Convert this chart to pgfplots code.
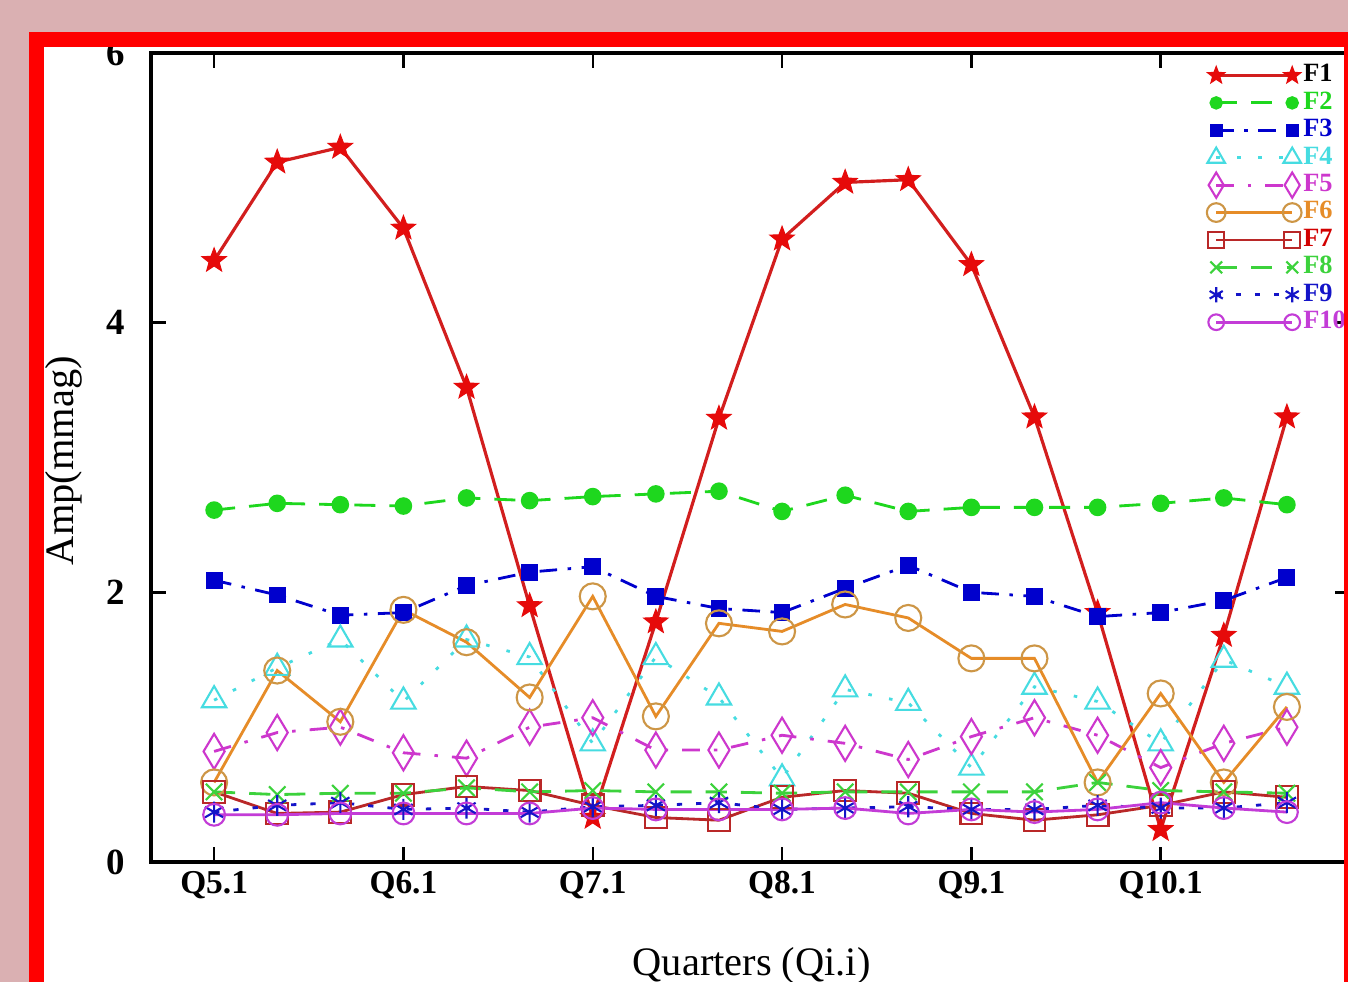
\documentclass[border=0pt]{standalone}
\usepackage{pgfplots}
\pgfplotsset{compat=1.18}
\usepackage{pgfplotstable}
\usepackage{fontspec}
\setmainfont{Liberation Serif}

\definecolor{bgpink}{RGB}{218,176,178}
\definecolor{frame}{RGB}{255,0,0}
\definecolor{c1}{RGB}{230,10,10}
\definecolor{c1l}{RGB}{210,30,30}
\definecolor{c2}{RGB}{30,215,30}
\definecolor{c3}{RGB}{0,0,205}
\definecolor{c4}{RGB}{70,220,225}
\definecolor{c5}{RGB}{205,55,205}
\definecolor{c6}{RGB}{230,140,40}
\definecolor{c6m}{RGB}{205,150,70}
\definecolor{c7}{RGB}{185,40,40}
\definecolor{c7t}{RGB}{210,0,0}
\definecolor{c8}{RGB}{60,210,60}
\definecolor{c9}{RGB}{20,20,200}
\definecolor{c10}{RGB}{195,60,215}

\pgfdeclareplotmark{fstar}{%
  \pgfpathmoveto{\pgfpointpolar{90}{\pgfplotmarksize}}%
  \pgfpathlineto{\pgfpointpolar{126}{0.42\pgfplotmarksize}}%
  \pgfpathlineto{\pgfpointpolar{162}{\pgfplotmarksize}}%
  \pgfpathlineto{\pgfpointpolar{198}{0.42\pgfplotmarksize}}%
  \pgfpathlineto{\pgfpointpolar{234}{\pgfplotmarksize}}%
  \pgfpathlineto{\pgfpointpolar{270}{0.42\pgfplotmarksize}}%
  \pgfpathlineto{\pgfpointpolar{306}{\pgfplotmarksize}}%
  \pgfpathlineto{\pgfpointpolar{342}{0.42\pgfplotmarksize}}%
  \pgfpathlineto{\pgfpointpolar{18}{\pgfplotmarksize}}%
  \pgfpathlineto{\pgfpointpolar{54}{0.42\pgfplotmarksize}}%
  \pgfpathclose
  \pgfusepathqfillstroke}

\pgfplotstableread{
x f1 f2 f3 f4 f5 f6 f7 f8 f9 f10
0 4.46 2.61 2.09 1.20 0.82 0.59 0.52 0.52 0.37 0.35
1 5.19 2.66 1.98 1.44 0.96 1.42 0.36 0.50 0.42 0.35
2 5.30 2.65 1.83 1.65 1.00 1.04 0.37 0.51 0.44 0.36
3 4.70 2.64 1.85 1.19 0.81 1.87 0.50 0.51 0.39 0.36
4 3.52 2.70 2.05 1.65 0.77 1.63 0.56 0.55 0.40 0.36
5 1.90 2.68 2.15 1.52 1.00 1.22 0.53 0.52 0.37 0.36
6 0.33 2.71 2.19 0.88 1.07 1.97 0.42 0.53 0.41 0.40
7 1.78 2.73 1.97 1.52 0.83 1.08 0.33 0.52 0.42 0.39
8 3.29 2.75 1.88 1.22 0.83 1.77 0.31 0.52 0.44 0.39
9 4.62 2.60 1.85 0.62 0.94 1.71 0.48 0.51 0.39 0.39
10 5.04 2.72 2.03 1.28 0.88 1.91 0.53 0.52 0.40 0.40
11 5.06 2.60 2.20 1.18 0.76 1.81 0.51 0.52 0.41 0.36
12 4.43 2.63 2.00 0.70 0.93 1.51 0.36 0.52 0.39 0.39
13 3.30 2.63 1.97 1.30 1.07 1.51 0.31 0.52 0.39 0.37
14 1.85 2.63 1.82 1.19 0.94 0.59 0.35 0.59 0.42 0.39
15 0.24 2.66 1.85 0.88 0.70 1.25 0.42 0.53 0.40 0.44
16 1.68 2.70 1.94 1.50 0.88 0.59 0.52 0.52 0.40 0.40
17 3.30 2.65 2.11 1.30 1.00 1.15 0.48 0.51 0.44 0.37
}\data

\begin{document}
\begin{tikzpicture}
\useasboundingbox (0,0) rectangle (13.48,9.82);
\clip (0,0) rectangle (13.48,9.82);
\fill[bgpink] (0,0) rectangle (13.48,9.82);
\fill[white] (0.44,0) rectangle (13.44,9.35);
\begin{axis}[
  width=11.99cm, height=8.09cm, scale only axis,
  at={(1.51cm,1.20cm)}, anchor=south west,
  xmin=-1, xmax=18, ymin=0, ymax=6,
  xtick={0,3,6,9,12,15},
  xticklabels={Q5.1,Q6.1,Q7.1,Q8.1,Q9.1,Q10.1},
  ytick={0,2,4,6}, yticklabels={0,2,4,6},
  major tick length=0.15cm,
  tick style={black, line width=0.7pt},
  axis line style={black, line width=0.9pt},
  xticklabel style={font=\bfseries\fontsize{9.5}{10}\selectfont, yshift=1pt},
  yticklabel style={font=\bfseries\fontsize{10.5}{11}\selectfont, xshift=-0.14cm},
  xlabel={Quarters (Qi.i)}, ylabel={Amp(mmag)},
  label style={font=\fontsize{11.5}{12}\selectfont},
  xlabel style={at={(axis description cs:0.501,-0.140)}, anchor=base},
  ylabel style={at={(axis description cs:-0.0725,0.496)}, anchor=center},
  legend style={at={(axis description cs:0.880,0.990)}, anchor=north west,
    draw=none, fill=none, inner sep=0pt, row sep=0pt,
    font=\bfseries\fontsize{7.5}{8}\selectfont,
    nodes={inner sep=0.5pt, text height=5.2pt, text depth=1.6pt}},
  legend cell align=left,
  legend image code/.code={\draw[#1, every mark/.append style={scale=0.72}] plot coordinates {(0cm,0cm) (0.76cm,0cm)};},
]
\addplot[c1l, line width=0.9pt, mark=fstar, mark size=3.6pt, mark options={solid, fill=c1, draw=c1, line width=0.3pt}] table[x=x,y=f1]{\data};
\addlegendentry{\textcolor{black}{F1}}
\addplot[c2, line width=0.8pt, dash pattern=on 6pt off 4pt, mark=*, mark size=2.1pt, mark options={solid, fill=c2, draw=c2}] table[x=x,y=f2]{\data};
\addlegendentry{\textcolor{c2}{F2}}
\addplot[c3, line width=0.8pt, dash pattern=on 5pt off 3pt on 1pt off 3pt, mark=square*, mark size=2.0pt, mark options={solid, fill=c3, draw=c3}] table[x=x,y=f3]{\data};
\addlegendentry{\textcolor{c3}{F3}}
\addplot[c4, line width=0.8pt, dash pattern=on 1pt off 5pt, mark=triangle, mark size=4pt, mark options={solid, draw=c4, line width=0.6pt}] table[x=x,y=f4]{\data};
\addlegendentry{\textcolor{c4}{F4}}
\addplot[c5, line width=0.8pt, dash pattern=on 5pt off 4pt on 1pt off 4pt, mark=diamond, mark size=5pt, mark options={solid, draw=c5, line width=0.6pt, xscale=0.8}] table[x=x,y=f5]{\data};
\addlegendentry{\textcolor{c5}{F5}}
\addplot[c6, line width=0.8pt, mark=o, mark size=3.7pt, mark options={solid, draw=c6m, line width=0.6pt}] table[x=x,y=f6]{\data};
\addlegendentry{\textcolor{c6}{F6}}
\addplot[c7, line width=0.8pt, mark=square, mark size=3.1pt, mark options={solid, draw=c7, line width=0.6pt}] table[x=x,y=f7]{\data};
\addlegendentry{\textcolor{c7t}{F7}}
\addplot[c8, line width=0.8pt, dash pattern=on 6pt off 4pt, mark=x, mark size=3.3pt, mark options={solid, draw=c8, line width=0.6pt}] table[x=x,y=f8]{\data};
\addlegendentry{\textcolor{c8}{F8}}
\addplot[c9, line width=0.8pt, dash pattern=on 1.5pt off 4pt, mark=asterisk, mark size=3pt, mark options={solid, draw=c9, line width=0.6pt}] table[x=x,y=f9]{\data};
\addlegendentry{\textcolor{c9}{F9}}
\addplot[c10, line width=0.8pt, mark=o, mark size=3.1pt, mark options={solid, draw=c10, line width=0.6pt}] table[x=x,y=f10]{\data};
\addlegendentry{\textcolor{c10}{F10}}
\end{axis}
\fill[frame] (0.29,0) rectangle (0.44,9.50);
\fill[frame] (0.29,9.35) rectangle (13.48,9.50);
\fill[frame] (13.44,0) rectangle (13.48,9.50);
\end{tikzpicture}
\end{document}
